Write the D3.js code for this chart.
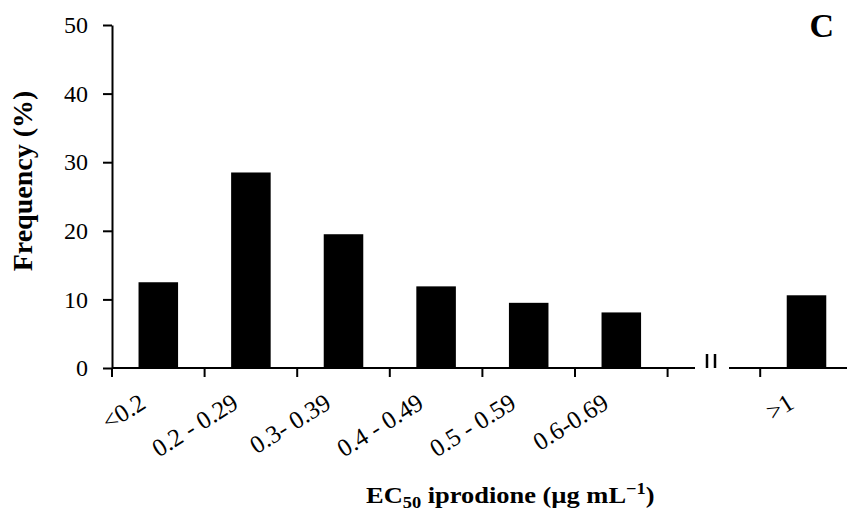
<!DOCTYPE html>
<html>
<head>
<meta charset="utf-8">
<script src="https://cdn.jsdelivr.net/npm/d3@7"></script>
<style>
  body { margin: 0; background: #fff; }
  svg text { font-family: "Liberation Serif", "Times New Roman", serif; fill: #000; }
</style>
</head>
<body>
<svg id="chart" width="847" height="515"></svg>
<script>
////////////
// DATA
////////////
const categories = ["<0.2", "0.2 - 0.29", "0.3- 0.39", "0.4 - 0.49", "0.5 - 0.59", "0.6-0.69", "gap", ">1"];
const frequencies = [12.5, 28.5, 19.5, 11.9, 9.5, 8.1, null, 10.6];
const yTicks = [0, 10, 20, 30, 40, 50];

////////////
// SETTINGS
////////////
const svg = d3.select("#chart");
const plotLeft = 112, plotTop = 25, plotBottom = 368;
const step = 92.6;

let x = d3.scaleBand()
    .domain(categories)
    .range([plotLeft, plotLeft + step * categories.length])
    .paddingInner(0.573)
    .paddingOuter(0.2865);

let y = d3.scaleLinear()
    .domain([0, 50])
    .range([plotBottom, plotTop]);

const bars = categories.map((c, i) => ({ cat: c, value: frequencies[i] }))
    .filter(d => d.value !== null);

////////////
// DRAWING
////////////

// bars
svg.append("g")
    .selectAll("rect")
    .data(bars)
    .join("rect")
    .attr("x", d => x(d.cat))
    .attr("y", d => y(d.value))
    .attr("width", x.bandwidth())
    .attr("height", d => y(0) - y(d.value))
    .attr("fill", "#000");

// y axis
const yAxis = svg.append("g")
    .attr("transform", `translate(${plotLeft},0)`)
    .call(d3.axisLeft(y).tickValues(yTicks).tickSize(9).tickSizeOuter(0).tickPadding(15));
yAxis.select(".domain").attr("stroke-width", 2);
yAxis.selectAll(".tick line").attr("stroke-width", 2);
yAxis.selectAll(".tick text").style("font-size", "24px").style("font-family", "Liberation Serif");

// x axis line with a break before the last category
const breakStart = 695, breakEnd = 729;
svg.append("line")
    .attr("x1", plotLeft).attr("x2", breakStart)
    .attr("y1", y(0)).attr("y2", y(0))
    .attr("stroke", "#000").attr("stroke-width", 2);
svg.append("line")
    .attr("x1", breakEnd).attr("x2", 847)
    .attr("y1", y(0)).attr("y2", y(0))
    .attr("stroke", "#000").attr("stroke-width", 2);

// break mark
[707, 715].forEach(bx => {
    svg.append("line")
        .attr("x1", bx).attr("x2", bx)
        .attr("y1", y(0) - 14).attr("y2", y(0))
        .attr("stroke", "#000").attr("stroke-width", 2.5);
});

// x ticks at band boundaries
const pad = (x.step() - x.bandwidth()) / 2;
svg.append("g")
    .selectAll("line")
    .data(categories)
    .join("line")
    .attr("x1", d => x(d) - pad)
    .attr("x2", d => x(d) - pad)
    .attr("y1", y(0))
    .attr("y2", y(0) + 9)
    .attr("stroke", "#000")
    .attr("stroke-width", 2);

// x tick labels
svg.append("g")
    .selectAll("text")
    .data(categories.filter(c => c !== "gap"))
    .join("text")
    .attr("transform", d => `translate(${x(d) + x.bandwidth() / 2 - 11},${y(0) + 39}) rotate(-32)`)
    .attr("text-anchor", "end")
    .style("font-size", "25px")
    .text(d => d);

// axis titles
svg.append("text")
    .attr("transform", `translate(32,181) rotate(-90)`)
    .attr("text-anchor", "middle")
    .style("font-size", "28px")
    .style("font-weight", "bold")
    .text("Frequency (%)");

const xt = svg.append("text")
    .attr("transform", "translate(366,503) scale(1.15,1)")
    .attr("text-anchor", "start")
    .style("font-size", "23px")
    .style("font-weight", "bold");
xt.append("tspan").text("EC");
xt.append("tspan").attr("dy", 5).style("font-size", "16px").text("50");
xt.append("tspan").attr("dy", -5).text(" iprodione (µg mL");
xt.append("tspan").attr("dy", -9).style("font-size", "16px").text("\u22121");
xt.append("tspan").attr("dy", 9).text(")");

// panel letter
svg.append("text")
    .attr("x", 834)
    .attr("y", 37)
    .attr("text-anchor", "end")
    .style("font-size", "34px")
    .style("font-weight", "bold")
    .text("C");
</script>
</body>
</html>
